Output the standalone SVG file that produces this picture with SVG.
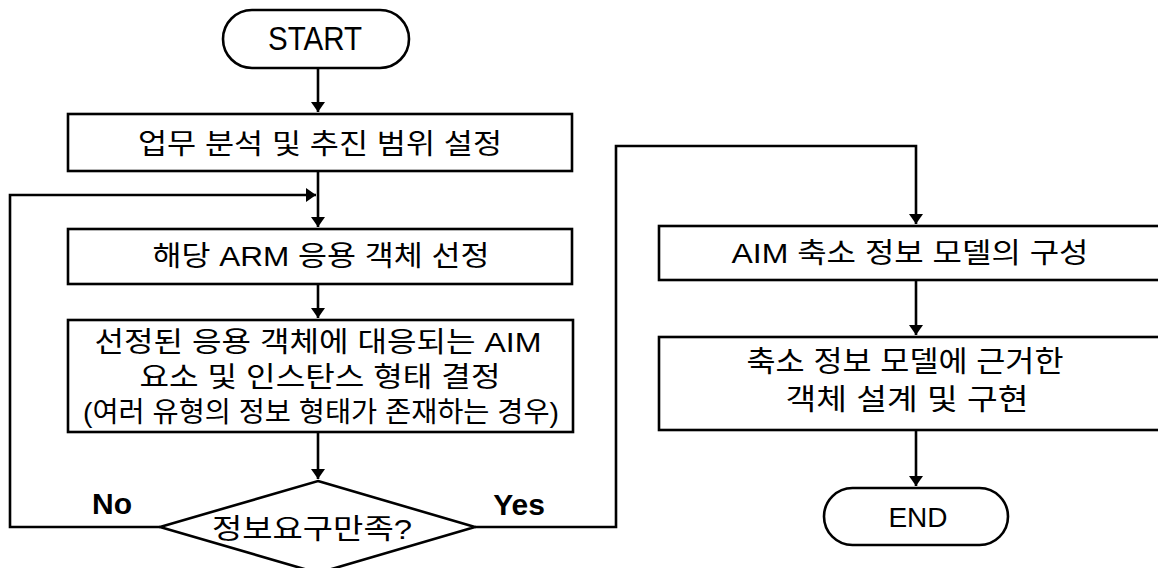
<svg xmlns="http://www.w3.org/2000/svg" width="1158" height="568" viewBox="0 0 1158 568">
<style>
.box{fill:#fff;stroke:#000;stroke-width:2.6}
.ln{fill:none;stroke:#000;stroke-width:2.6}
.t{font-family:"Liberation Sans","Noto Sans CJK KR",sans-serif;font-size:28px;fill:#000;text-anchor:middle}
.b{font-family:"Liberation Sans","Noto Sans CJK KR",sans-serif;font-size:30px;fill:#000;text-anchor:middle;font-weight:bold}
</style>
<defs>
<marker id="ah" viewBox="0 0 10 14" refX="10" refY="7" markerWidth="10" markerHeight="14" markerUnits="userSpaceOnUse" orient="auto">
<path d="M0,0 L10,7 L0,14 Z" fill="#000"/>
</marker>
</defs>
<g id="connectors">
<path class="ln" d="M318,68 V112" marker-end="url(#ah)"/>
<path class="ln" d="M318,171 V227" marker-end="url(#ah)"/>
<path class="ln" d="M160,527 H10 V195 H316" marker-end="url(#ah)"/>
<path class="ln" d="M318,284 V318" marker-end="url(#ah)"/>
<path class="ln" d="M318,432 V479" marker-end="url(#ah)"/>
<path class="ln" d="M475,527 H616 V146 H916 V224" marker-end="url(#ah)"/>
<path class="ln" d="M916,280 V335" marker-end="url(#ah)"/>
<path class="ln" d="M916,430 V486" marker-end="url(#ah)"/>
</g>
<g id="start">
<rect class="box" x="223" y="10" width="186" height="58" rx="29"/>
<text class="t" x="315" y="50" style="font-size:33px" textLength="94" lengthAdjust="spacingAndGlyphs">START</text>
</g>
<g id="n1">
<rect class="box" x="68" y="114" width="504" height="57"/>
<text class="t" x="320" y="154" textLength="364" lengthAdjust="spacingAndGlyphs">업무 분석 및 추진 범위 설정</text>
</g>
<g id="n2">
<rect class="box" x="68" y="229" width="504" height="55"/>
<text class="t" x="321" y="266" textLength="337" lengthAdjust="spacingAndGlyphs">해당 ARM 응용 객체 선정</text>
</g>
<g id="n3">
<rect class="box" x="68" y="320" width="505" height="112"/>
<text class="t" x="318" y="352" textLength="447" lengthAdjust="spacingAndGlyphs">선정된 응용 객체에 대응되는 AIM</text>
<text class="t" x="320" y="387" textLength="361" lengthAdjust="spacingAndGlyphs">요소 및 인스탄스 형태 결정</text>
<text class="t" x="321" y="422" textLength="476" lengthAdjust="spacingAndGlyphs">(여러 유형의 정보 형태가 존재하는 경우)</text>
</g>
<g id="decision">
<polygon class="box" points="318,481 475,527 318,573 160,527"/>
<text class="t" x="312" y="539" textLength="200" lengthAdjust="spacingAndGlyphs">정보요구만족?</text>
<text class="b" x="112" y="514">No</text>
<text class="b" x="519" y="515">Yes</text>
</g>
<g id="n4">
<rect class="box" x="659" y="226" width="520" height="54"/>
<text class="t" x="910" y="263" textLength="357" lengthAdjust="spacingAndGlyphs">AIM 축소 정보 모델의 구성</text>
</g>
<g id="n5">
<rect class="box" x="659" y="337" width="520" height="93"/>
<text class="t" x="905" y="372" style="font-size:29px" textLength="317" lengthAdjust="spacingAndGlyphs">축소 정보 모델에 근거한</text>
<text class="t" x="907" y="410" style="font-size:29px" textLength="243" lengthAdjust="spacingAndGlyphs">객체 설계 및 구현</text>
</g>
<g id="end">
<rect class="box" x="824" y="488" width="184" height="57" rx="28.5"/>
<text class="t" x="918" y="527">END</text>
</g>
</svg>
